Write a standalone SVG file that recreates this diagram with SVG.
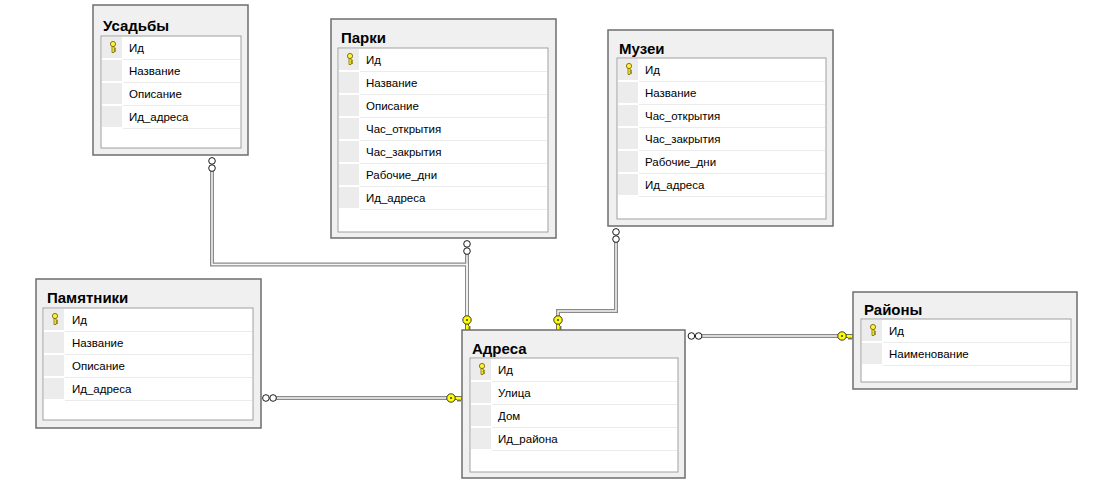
<svg xmlns="http://www.w3.org/2000/svg" xmlns:xlink="http://www.w3.org/1999/xlink" width="1097" height="495" viewBox="0 0 1097 495">
<style>
.frame{fill:#f0f0f0;stroke:#6e6e6e;stroke-width:1.5}
.grid{fill:#ffffff;stroke:#a0a0a0;stroke-width:1}
.cell{fill:#ececec}
.sep{stroke:#ebebeb;stroke-width:1}
.t{font-family:"Liberation Sans",Arial,sans-serif;font-size:11.5px;fill:#000}
.h{font-family:"Liberation Sans",Arial,sans-serif;font-size:15px;font-weight:bold;fill:#000}
.co{fill:none;stroke:#8a8a8a;stroke-width:4}
.ci{fill:none;stroke:#f6f6f6;stroke-width:1.5}
</style>
<defs>
<g id="pk">
<circle cx="0" cy="-3" r="2.6" fill="#fff23a" stroke="#7a6a00" stroke-width="0.9"/>
<path d="M-1,-0.5 V5.5 H1 V4.5 H2.5 V3.3 H1 V2.3 H2.5 V1.2 H1 V-0.5 Z" fill="#fff23a" stroke="#7a6a00" stroke-width="0.8"/>
</g>
<g id="fk">
<path d="M3.5,-1.5 H11 V1.5 H10 L9,3.5 L8,1.5 L7,3.5 L6,1.5 H3.5 Z" fill="#ffff00" stroke="#333" stroke-width="0.7"/>
<circle cx="0" cy="0" r="4.2" fill="#ffff00" stroke="#222" stroke-width="0.9"/>
<circle cx="0" cy="0" r="0.9" fill="#222"/>
</g>
<g id="many">
<circle cx="-3.6" cy="0" r="3.3" fill="#fff" stroke="#000" stroke-width="0.9"/>
<circle cx="3.6" cy="0" r="3.3" fill="#fff" stroke="#000" stroke-width="0.9"/>
</g>
</defs>

<g id="connectors">
<path class="co" d="M212,171 V264.5 H467 V316"/>
<path class="co" d="M467,254 V316"/>
<path class="co" d="M616,242 V311 H558 V316"/>
<path class="co" d="M276,398 H447"/>
<path class="co" d="M702,336 H838"/>
<path class="ci" d="M212,171 V264.5 H467 V316"/>
<path class="ci" d="M467,254 V316"/>
<path class="ci" d="M616,242 V311 H558 V316"/>
<path class="ci" d="M276,398 H447"/>
<path class="ci" d="M702,336 H838"/>
<use xlink:href="#many" transform="translate(212,164.5) rotate(90)"/>
<use xlink:href="#many" transform="translate(467,247.5) rotate(90)"/>
<use xlink:href="#many" transform="translate(616,235.5) rotate(90)"/>
<use xlink:href="#many" transform="translate(269.5,398)"/>
<use xlink:href="#many" transform="translate(695,336)"/>
<use xlink:href="#fk" transform="translate(467,320) rotate(90) scale(1,-1)"/>
<use xlink:href="#fk" transform="translate(558,320) rotate(90) scale(1,-1)"/>
<use xlink:href="#fk" transform="translate(451,398)"/>
<use xlink:href="#fk" transform="translate(842,336)"/>
</g>

<g id="usadby">
<rect class="frame" x="93" y="5" width="155" height="150"/>
<text class="h" x="103" y="31">Усадьбы</text>
<rect class="grid" x="101" y="36" width="140" height="112"/>
<rect class="cell" x="102" y="37" width="20" height="21"/>
<rect class="cell" x="102" y="60" width="20" height="21"/>
<rect class="cell" x="102" y="83" width="20" height="21"/>
<rect class="cell" x="102" y="106" width="20" height="21"/>
<path class="sep" d="M123,59.5 H240 M123,82.5 H240 M123,105.5 H240 M123,128.5 H240"/>
<use xlink:href="#pk" x="113" y="47"/>
<text class="t" x="129" y="52">Ид</text>
<text class="t" x="129" y="75">Название</text>
<text class="t" x="129" y="98">Описание</text>
<text class="t" x="129" y="121">Ид_адреса</text>
</g>

<g id="parki">
<rect class="frame" x="331" y="19" width="225" height="219"/>
<text class="h" x="341" y="43">Парки</text>
<rect class="grid" x="338" y="48" width="210" height="184"/>
<rect class="cell" x="339" y="49" width="20" height="21"/>
<rect class="cell" x="339" y="72" width="20" height="21"/>
<rect class="cell" x="339" y="95" width="20" height="21"/>
<rect class="cell" x="339" y="118" width="20" height="21"/>
<rect class="cell" x="339" y="141" width="20" height="21"/>
<rect class="cell" x="339" y="164" width="20" height="21"/>
<rect class="cell" x="339" y="187" width="20" height="21"/>
<path class="sep" d="M360,71.5 H547 M360,94.5 H547 M360,117.5 H547 M360,140.5 H547 M360,163.5 H547 M360,186.5 H547 M360,209.5 H547"/>
<use xlink:href="#pk" x="350" y="59"/>
<text class="t" x="366" y="64">Ид</text>
<text class="t" x="366" y="87">Название</text>
<text class="t" x="366" y="110">Описание</text>
<text class="t" x="366" y="133">Час_открытия</text>
<text class="t" x="366" y="156">Час_закрытия</text>
<text class="t" x="366" y="179">Рабочие_дни</text>
<text class="t" x="366" y="202">Ид_адреса</text>
</g>

<g id="muzei">
<rect class="frame" x="608" y="30" width="225" height="196"/>
<text class="h" x="619" y="54">Музеи</text>
<rect class="grid" x="617" y="58" width="209" height="161"/>
<rect class="cell" x="618" y="59" width="20" height="21"/>
<rect class="cell" x="618" y="82" width="20" height="21"/>
<rect class="cell" x="618" y="105" width="20" height="21"/>
<rect class="cell" x="618" y="128" width="20" height="21"/>
<rect class="cell" x="618" y="151" width="20" height="21"/>
<rect class="cell" x="618" y="174" width="20" height="21"/>
<path class="sep" d="M639,81.5 H825 M639,104.5 H825 M639,127.5 H825 M639,150.5 H825 M639,173.5 H825 M639,196.5 H825"/>
<use xlink:href="#pk" x="629" y="69"/>
<text class="t" x="645" y="74">Ид</text>
<text class="t" x="645" y="97">Название</text>
<text class="t" x="645" y="120">Час_открытия</text>
<text class="t" x="645" y="143">Час_закрытия</text>
<text class="t" x="645" y="166">Рабочие_дни</text>
<text class="t" x="645" y="189">Ид_адреса</text>
</g>

<g id="pamyatniki">
<rect class="frame" x="36" y="279" width="225" height="149"/>
<text class="h" x="47" y="303">Памятники</text>
<rect class="grid" x="43" y="308" width="210" height="112"/>
<rect class="cell" x="44" y="309" width="20" height="21"/>
<rect class="cell" x="44" y="332" width="20" height="21"/>
<rect class="cell" x="44" y="355" width="20" height="21"/>
<rect class="cell" x="44" y="378" width="20" height="21"/>
<path class="sep" d="M65,331.5 H252 M65,354.5 H252 M65,377.5 H252 M65,400.5 H252"/>
<use xlink:href="#pk" x="55" y="319"/>
<text class="t" x="72" y="324">Ид</text>
<text class="t" x="72" y="347">Название</text>
<text class="t" x="72" y="370">Описание</text>
<text class="t" x="72" y="393">Ид_адреса</text>
</g>

<g id="adresa">
<rect class="frame" x="462" y="330" width="223" height="148"/>
<text class="h" x="472" y="354">Адреса</text>
<rect class="grid" x="470" y="358" width="208" height="114"/>
<rect class="cell" x="471" y="359" width="20" height="21"/>
<rect class="cell" x="471" y="382" width="20" height="21"/>
<rect class="cell" x="471" y="405" width="20" height="21"/>
<rect class="cell" x="471" y="428" width="20" height="21"/>
<path class="sep" d="M492,381.5 H677 M492,404.5 H677 M492,427.5 H677 M492,450.5 H677"/>
<use xlink:href="#pk" x="482" y="369"/>
<text class="t" x="498" y="374">Ид</text>
<text class="t" x="498" y="397">Улица</text>
<text class="t" x="498" y="420">Дом</text>
<text class="t" x="498" y="443">Ид_района</text>
</g>

<g id="rayony">
<rect class="frame" x="853" y="292" width="224" height="97"/>
<text class="h" x="864" y="315">Районы</text>
<rect class="grid" x="861" y="319" width="210" height="63"/>
<rect class="cell" x="862" y="320" width="20" height="21"/>
<rect class="cell" x="862" y="343" width="20" height="21"/>
<path class="sep" d="M883,342.5 H1070 M883,365.5 H1070"/>
<use xlink:href="#pk" x="873" y="330"/>
<text class="t" x="889" y="335">Ид</text>
<text class="t" x="889" y="358">Наименование</text>
</g>
</svg>
